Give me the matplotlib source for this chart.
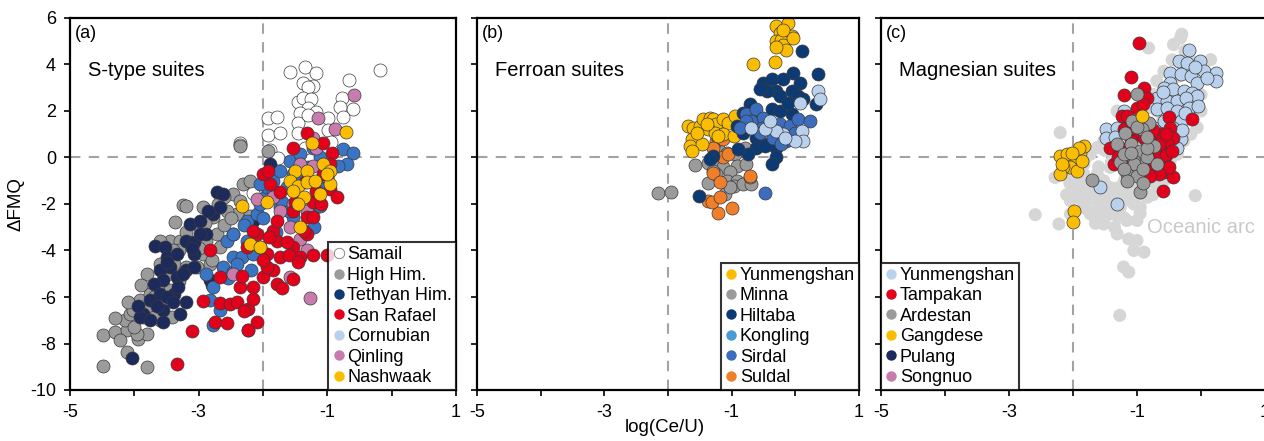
import matplotlib
matplotlib.use("Agg")
import matplotlib.pyplot as plt
from matplotlib.lines import Line2D

plt.rcParams['font.family'] = ['Liberation Sans', 'DejaVu Sans']

# ---------------- Panel (a): S-type suites ----------------
samail_x = [-1.58, -1.35, -1.18, -0.18, -0.66, -1.38, -1.22, -1.30, -0.77, -0.60, -1.45, -1.38, -1.25, -1.30,
            -1.43, -1.17, -0.81, -1.92, -1.79, -1.45, -1.30, -0.99, -0.76, -1.92, -1.74, -1.45, -0.99, -1.22,
            -1.35, -0.94, -2.36, -2.36, -1.89, -1.77, -2.15]
samail_y = [3.69, 3.91, 3.65, 3.76, 3.33, 3.19, 3.08, 3.05, 2.57, 2.07, 2.40, 2.54, 2.50, 2.11,
            1.90, 1.97, 2.19, 1.68, 1.73, 1.47, 1.83, 1.68, 1.76, 0.97, 1.04, 1.04, 1.18, 0.75,
            0.39, 0.68, 0.61, 0.54, 0.32, -0.04, -1.51]

highhim_x = [-4.48, -3.80, -4.12, -4.48, -4.30, -4.12, -4.22, -3.94, -3.81, -4.15, -4.07, -3.86, -3.91, -3.76,
             -3.60, -3.45, -3.50, -3.81, -3.39, -3.45, -3.29, -3.37, -3.24, -3.19, -2.93, -2.77, -2.98, -2.88,
             -2.72, -2.67, -2.46, -2.41, -2.31, -2.46, -2.56, -2.36, -2.93, -2.82, -3.03, -3.19, -3.60, -3.76,
             -4.02, -3.70, -3.42, -3.96, -2.36, -1.92, -3.05, -2.60, -2.20, -3.30,
             -3.60, -3.40, -3.20, -3.00, -2.90, -2.70, -2.60, -2.50, -2.80, -3.30, -3.60, -3.90, -4.10, -4.30,
             -4.00, -3.70, -2.20]
highhim_y = [-8.96, -9.03, -8.36, -7.64, -7.50, -7.43, -7.86, -7.79, -7.57, -7.00, -6.71, -6.86, -6.14, -5.86,
             -5.57, -5.71, -5.00, -5.00, -4.57, -3.57, -3.57, -2.79, -2.03, -2.07, -2.14, -2.57, -3.00, -3.57,
             -3.29, -3.86, -3.29, -2.43, -1.14, -1.57, -2.29, -1.86, -4.14, -4.57, -4.71, -4.71, -7.00, -6.43,
             -6.57, -6.86, -6.86, -7.57, 0.50, 0.30, -3.90, -2.90, -2.50, -4.00,
             -3.60, -4.00, -3.20, -3.90, -2.80, -2.00, -1.70, -2.60, -4.40, -5.30, -4.60, -5.50, -6.20, -6.90,
             -7.30, -6.00, -1.00]

tethyan_x = [-4.04, -3.68, -3.52, -3.50, -3.13, -2.98, -2.77, -2.72, -2.62, -2.67, -2.88, -3.19, -3.08, -3.34,
             -3.45, -3.60, -3.55, -3.34, -3.19, -3.08, -3.70, -3.60, -3.76, -3.39, -3.55, -3.86, -3.91, -3.76,
             -3.55, -3.29, -3.19, -3.50, -3.32, -2.82, -2.80, -3.08, -2.98, -1.89, -2.15,
             -3.50, -3.25, -3.40, -3.65, -3.95, -3.10, -2.85]
tethyan_y = [-8.64, -3.79, -3.86, -4.29, -2.86, -2.71, -2.43, -1.50, -1.57, -2.14, -3.29, -3.57, -4.14, -4.14,
             -4.71, -4.86, -5.29, -5.14, -4.86, -4.71, -5.43, -5.86, -6.14, -5.86, -6.57, -6.71, -6.86, -7.00,
             -7.07, -6.71, -6.21, -6.00, -5.57, -5.29, -5.50, -3.64, -3.29, -0.29, -2.71,
             -4.50, -5.00, -6.20, -6.40, -6.40, -3.90, -2.30]

sanrafael_x = [-3.34, -3.10, -2.75, -2.56, -2.10, -2.23, -2.93, -2.67, -2.51, -2.41, -2.23, -2.15, -2.36, -2.15,
               -2.00, -1.84, -1.79, -1.53, -1.74, -1.53, -1.32, -1.22, -1.42, -1.79, -1.94, -2.05, -1.84, -2.10,
               -2.25, -2.33, -2.67, -2.82, -2.15, -1.79, -1.53, -1.32, -1.37, -1.50, -1.22, -1.17, -0.96, -1.06,
               -1.35, -1.74, -1.89, -2.00, -1.92, -1.53, -1.32, -1.06, -0.93, -0.96, -1.22, -1.63, -1.94, -1.00,
               -1.60, -1.90, -2.00, -1.70, -2.30, -1.45, -1.10, -0.85]
sanrafael_y = [-8.90, -7.46, -7.07, -7.11, -7.07, -7.43, -6.19, -6.26, -6.29, -6.21, -6.50, -6.07, -5.57, -5.57,
               -5.14, -4.86, -5.43, -5.21, -4.29, -3.86, -3.29, -4.21, -4.29, -3.57, -4.14, -3.86, -3.14, -3.29,
               -3.86, -5.11, -5.14, -4.00, -3.14, -2.71, -2.29, -2.57, -3.14, -1.93, -1.93, -1.43, -1.36, -0.71,
               -1.07, -1.50, -1.14, -0.71, -0.57, 0.43, 1.07, 0.64, 0.21, -0.29, -2.57, -3.64, -4.71, -4.20,
               -4.20, -3.40, -4.40, -5.60, -6.60, -4.50, -2.00, -1.70]

cornubian_x = [-2.77, -2.67, -2.82, -2.88, -2.77, -2.56, -2.46, -2.33, -2.18, -2.25, -2.10, -2.05, -1.97, -1.94,
               -1.84, -2.05, -1.74, -1.58, -1.42, -1.22, -0.75, -0.60, -0.70, -0.83, -1.11, -1.53, -1.63, -1.42,
               -1.17, -1.11, -1.53, -1.74, -1.84, -2.15, -2.25, -2.46, -2.62, -1.11, -2.46,
               -2.00, -1.70, -1.60, -1.30, -1.00, -2.30, -2.55, -2.40, -1.20, -1.80]
cornubian_y = [-7.21, -6.57, -6.14, -5.00, -5.57, -3.57, -4.29, -4.29, -4.86, -2.71, -2.43, -2.00, -1.71, -1.29,
               -1.00, -1.14, -0.57, -0.14, 0.14, 0.43, 0.36, 0.21, -0.29, -0.36, 0.00, -0.71, -1.29, -0.71,
               -2.14, -1.29, -2.57, -2.14, -1.43, -4.14, -3.57, -3.29, -4.71, -2.07, -4.93,
               -2.60, -1.90, -2.30, -0.40, -0.90, -2.90, -5.20, -4.60, -3.00, -3.20]

qinling_x = [-0.58, -1.14, -0.88, -1.22, -1.17, -1.22, -1.42, -1.84, -1.74, -1.53, -1.27, -1.32, -1.58, -1.42,
             -1.32, -2.46, -1.58, -1.27, -2.23, -2.10, -1.01]
qinling_y = [2.67, 1.71, 1.21, 0.86, 0.43, -0.36, -0.29, -1.71, -2.29, -2.00, -2.00, -2.29, -3.00, -3.50,
             -4.00, -5.00, -5.14, -6.04, -7.43, -1.79, -0.86]

nashwaak_x = [-0.71, -1.24, -1.50, -1.32, -1.06, -0.96, -1.58, -1.45, -1.32, -1.19, -0.96, -1.11, -1.37, -1.53,
              -1.94, -2.32, -1.45, -1.42, -2.20, -2.05, -1.01]
nashwaak_y = [1.11, 0.64, -0.57, -0.57, -0.29, -0.57, -1.00, -1.21, -1.07, -1.00, -1.14, -1.57, -1.71, -1.43,
              -1.93, -2.07, -2.00, -3.00, -3.71, -3.86, -0.71]

# ---------------- Panel (b): Ferroan suites ----------------
yunb_x = [-0.30, -0.11, -0.24, -0.16, -0.06, -0.30, -0.22, -0.19, -0.14, -0.30, -0.04, -0.19, -0.66, -0.32,
          -1.68, -1.60, -1.50, -1.45, -1.34, -1.29, -1.24, -1.13, -1.05, -0.95, -1.37, -1.26, -1.13, -0.97,
          -1.63, -1.65, -1.47, -1.63, -1.21, -1.55, -1.39]
yunb_y = [5.64, 5.79, 5.36, 5.29, 5.21, 5.00, 5.07, 4.86, 4.64, 4.74, 5.14, 5.50, 4.00, 4.10,
          1.36, 1.29, 1.36, 1.64, 1.71, 1.64, 1.43, 1.64, 1.50, 1.79, 1.21, 1.07, 1.00, 0.93,
          0.79, 0.50, 0.57, 0.29, 0.93, 1.07, 1.43]

minna_x = [-2.15, -1.95, -1.58, -1.37, -1.21, -1.08, -0.95, -0.79, -1.24, -1.13, -0.92, -0.77, -1.37, -1.24,
           -1.03, -1.08, -0.92, -0.97, -0.82, -0.69, -0.71, -1.11, -1.03, -1.29]
minna_y = [-1.53, -1.50, -0.33, -0.24, 0.43, 0.21, 0.14, 0.43, -0.29, -0.43, -0.36, -0.29, -1.11, -0.71,
           -0.64, -1.00, -1.00, -1.21, -1.14, -1.14, -0.86, -1.57, -1.29, -0.57]

hiltaba_x = [0.10, 0.35, 0.33, -0.50, -0.37, -0.19, -0.03, 0.07, -0.06, -0.30, -0.45, -0.56, -0.24, 0.04,
             0.12, -0.82, -0.66, -0.37, -0.24, -0.06, -0.92, -0.82, -0.61, -0.45, -0.30, -0.61, -0.30, -0.37,
             -0.74, -0.90, -1.29, -1.34, -1.51, -0.48, -0.11, -0.71]
hiltaba_y = [4.57, 3.57, 2.29, 3.21, 3.36, 3.36, 3.64, 3.21, 2.86, 2.86, 2.86, 2.93, 2.64, 2.64,
             2.50, 1.93, 2.00, 2.07, 2.00, 1.86, 1.36, 1.07, 0.86, 0.57, 0.43, 0.43, 0.00, -0.29,
             0.14, 0.36, 0.07, -0.07, -1.67, 0.50, 2.36, 2.29]

kongling_x = [0.36, 0.39, 0.07, 0.11, 0.12, -0.01, -0.19, -0.30, -0.48, -0.69, -0.40, -0.16]
kongling_y = [2.86, 2.50, 2.36, 1.14, 0.71, 0.71, 1.00, 1.14, 1.21, 1.26, 1.57, 0.86]

sirdal_x = [-0.48, -0.77, -0.61, -0.50, -0.69, -0.53, -0.40, -0.24, -0.09, 0.04, 0.23, -0.01, -0.27, -0.35,
            -0.14, -0.22, -0.77, -0.87, -0.56]
sirdal_y = [-1.53, 1.86, 2.07, 1.71, 1.57, 1.29, 1.43, 1.43, 1.36, 1.64, 1.57, 1.07, 1.07, 0.86,
            0.71, 0.57, 1.57, 1.29, 1.07]

suldal_x = [-1.21, -1.00, -1.37, -1.31, -1.18, -1.29, -1.18, -1.13, -1.05, -1.24, -1.21, -1.13, -0.71, -1.29]
suldal_y = [-2.39, -2.17, -1.86, -1.93, -1.71, -0.67, -1.07, 0.00, 0.14, 0.71, 0.86, 0.79, -0.79, 0.43]

# ---------------- Panel (c): Magnesian suites ----------------
oceanic_x = [-0.32, -0.82, -0.43, 0.15, -0.58, -0.69, -0.74, -0.79, -1.31, -1.21, -1.10, -1.52, -1.62, -1.73,
             -1.83, -1.94, -2.04, -2.20, -2.28, -1.94, -1.78, -1.62, -1.52, -1.83, -1.94, -1.73, -1.52, -1.42,
             -1.26, -1.10, -0.95, -0.84, -0.69, -0.58, -0.27, -0.16, -0.06, -0.09, -2.59, -2.22, -2.04, -1.65,
             -1.52, -1.29, -1.16, -1.00, -1.31, -1.13, -1.00, -1.05, -0.89, -1.21, -1.13, -1.27, -1.42, -1.21,
             -1.00, -1.52, -1.62, -1.42, -1.21, -0.48, -0.37, -0.27, -0.58, -0.69, -0.48, -0.27, -0.16, 0.00,
             0.00, -1.52, -1.31, -2.04, -1.83, -1.70, -1.20, -0.90, -1.80, -1.40, -1.60, -1.10,
             -1.90, -1.80, -1.70, -1.60, -1.50, -1.40, -1.30, -1.20, -1.10, -1.00, -0.90, -0.80, -1.85, -1.65,
             -1.45, -1.25, -1.05, -0.95, -1.35, -1.55, -1.75, -1.60, -1.40, -1.30, -1.10, -0.90, -0.70, -0.60,
             -0.50, -0.40, -0.35, -0.45, -0.25, -0.30, -0.55, -0.80, -1.00, -1.50, -1.80, -2.05, -2.10, -1.20,
             -1.35, -0.75]
oceanic_y = [5.14, 4.71, 4.86, 4.21, 3.71, 3.29, 2.71, 2.14, 2.00, 1.71, 1.00, 0.71, 0.43, 0.14,
             -0.29, -0.57, -0.71, 1.07, -0.86, -1.29, -1.57, -1.86, -2.14, -2.00, -1.71, -2.43, -2.71, -2.43,
             -2.14, -1.86, -2.14, -1.71, -1.29, -1.00, 0.71, 1.00, 1.29, -1.64, -2.46, -2.86, -2.43, -2.83,
             -2.86, -2.57, -2.71, -2.71, -3.29, -3.50, -3.57, -4.00, -4.07, -4.71, -4.93, -6.79, -1.29, -1.29,
             -1.29, -1.00, -0.71, -0.43, -0.14, -0.14, 0.14, 1.57, 1.29, 2.00, 3.14, 3.86, 4.14, 2.71,
             2.00, -1.71, -1.71, -1.86, -0.71, -1.00, -0.60, -0.30, -2.20, -2.00, -1.30, -1.00,
             -0.90, -1.20, -1.40, -1.10, -1.40, -1.60, -1.30, -1.00, -1.50, -1.60, -1.30, -1.00, -1.50, -2.30,
             -1.90, -1.80, -2.00, -2.40, -2.30, -2.50, -1.80, -0.40, -0.20, 0.20, 0.50, 0.80, 1.10, 1.60,
             2.30, 2.80, 3.50, 4.20, 4.60, 5.30, 0.30, -0.60, -0.30, 0.30, 0.00, -1.10, -1.60, -2.60,
             -3.00, -1.60]

yunc_x = [-0.19, -0.35, -0.22, -0.01, 0.04, 0.23, 0.23, -0.48, -0.32, -0.16, -0.06, -0.48, -0.58, -0.43,
          -0.27, -0.14, -0.06, -0.69, -0.53, -0.37, -0.24, -0.19, -0.69, -0.53, -0.37, -0.32, -0.43, -0.32,
          -0.37, -0.74, -1.49, -1.49, -1.31, -1.58, -1.31, -0.58, -1.21,
          -0.10, 0.10, -0.05, -0.25, -0.60, -1.35, -0.30]
yunc_y = [4.64, 4.14, 4.07, 4.14, 3.71, 3.64, 3.29, 3.64, 3.57, 3.50, 3.21, 3.21, 3.00, 2.93,
          2.86, 2.79, 2.64, 2.57, 2.43, 2.43, 2.57, 2.14, 2.07, 2.14, 2.00, 1.57, 1.29, 0.79,
          0.43, 1.29, 1.21, 0.86, 1.29, -1.26, -2.00, 1.57, 2.00,
          3.90, 3.40, 2.20, 1.90, 2.80, 0.90, 1.20]

tampakan_x = [-0.97, -1.09, -1.20, -0.89, -1.00, -0.84, -0.14, -0.50, -1.23, -1.08, -0.95, -1.21, -1.00, -1.10,
              -0.89, -0.74, -1.42, -1.26, -0.63, -0.48, -0.43, -0.53, -0.63, -0.58, -0.69, -0.84, -0.58, -1.36,
              -1.21, -0.69, -0.44, -0.59, -0.79, -1.05,
              -0.55, -0.65, -0.75, -0.45, -0.50, -0.65, -0.80, -1.30, -1.15, -0.90, -0.55]
tampakan_y = [4.93, 3.46, 2.69, 2.97, 2.14, 2.57, 1.64, 1.74, 1.79, 1.57, 1.43, 1.21, 1.00, 0.71,
              0.86, 0.86, 0.43, 0.43, 1.00, 1.29, 0.86, 0.57, 0.29, -0.14, -0.43, -0.50, -0.64, -0.29,
              -0.36, 0.00, -0.83, -1.43, 0.43, 1.29,
              0.10, 0.60, 1.20, 0.30, -0.40, -0.70, -0.80, 0.00, 1.80, 2.30, 1.00]

ardestan_x = [-1.00, -1.08, -0.82, -1.18, -0.92, -1.31, -1.10, -0.95, -0.74, -1.26, -1.05, -1.05, -0.84, -0.69,
              -1.16, -1.00, -0.95, -1.70, -0.84, -1.21,
              -1.10, -0.90, -1.20, -0.85, -1.00, -1.15, -0.90]
ardestan_y = [2.74, 1.57, 1.50, 1.07, 1.21, 0.57, 0.57, 0.29, 0.50, -0.21, -0.14, -0.29, 0.00, -0.29,
              -0.71, -0.79, -1.50, -0.96, 0.43, 0.14,
              0.20, -0.50, -0.50, 0.90, 1.30, -1.00, -1.10]

gangdese_x = [-0.92, -1.99, -2.00, -2.20, -2.09, -1.99, -1.89, -1.83, -1.91, -2.04, -2.15, -2.20, -1.94, -2.09,
              -1.86, -2.02, -2.17]
gangdese_y = [1.79, -2.31, -2.79, 0.07, -0.21, 0.00, 0.21, 0.50, 0.43, -0.43, -0.43, -0.71, -0.57, 0.14,
              -0.14, 0.21, -0.29]

pulang_x, pulang_y = [], []
songnuo_x, songnuo_y = [], []

# ---------------- colours ----------------
C_WHITE = '#ffffff'
C_GRAY = '#9b9b9b'
C_NAVY = '#1c2a5c'
C_DKBLUE = '#0c3a74'
C_RED = '#e3001b'
C_MIDBLUE = '#3a74c4'
C_LTBLUE = '#b9d1ec'
C_PINK = '#c87bad'
C_GOLD = '#fbbd00'
C_KONG = '#4b9bd8'
C_SIRDAL = '#3b6cbd'
C_ORANGE = '#f07f29'
C_OCEAN = '#d6d6d6'

xticks = [-5, -4, -3, -2, -1, 0, 1]
xticklabels = ['-5', '', '-3', '', '-1', '', '1']
yticks = [-10, -8, -6, -4, -2, 0, 2, 4, 6]

fig = plt.figure(figsize=(12.64, 4.41), dpi=100)
W, H = 1264, 441
bottom = 1 - 390 / H
height = 372 / H
axA = fig.add_axes([70 / W, bottom, 386 / W, height])
axB = fig.add_axes([477 / W, bottom, 382 / W, height])
axC = fig.add_axes([881 / W, bottom, 384 / W, height])

S = 88
EC = '#3a3a3a'
LW = 0.5


def style(ax, show_ylabels):
    ax.set_xlim(-5, 1)
    ax.set_ylim(-10, 6)
    ax.set_xticks(xticks)
    ax.set_xticklabels(xticklabels)
    ax.set_yticks(yticks)
    if show_ylabels:
        ax.set_yticklabels([str(v) for v in yticks])
    else:
        ax.set_yticklabels([])
    ax.tick_params(direction='out', length=4, width=1.2, labelsize=13, pad=6)
    for sp in ax.spines.values():
        sp.set_linewidth(1.6)
        sp.set_color('black')
    ax.axvline(-2, color='#a3a3a3', lw=1.5, ls=(0, (5, 4)), zorder=0.5)
    ax.axhline(0, color='#a3a3a3', lw=1.5, ls=(0, (5, 4)), zorder=0.5)


def sc(ax, x, y, c, ec=EC, lw=LW, z=2):
    ax.scatter(x, y, s=S, c=c, edgecolors=ec, linewidths=lw, zorder=z)


def handle(color, label, ec='none'):
    return Line2D([], [], ls='none', marker='o', markersize=7.5, markerfacecolor=color,
                  markeredgecolor=ec, markeredgewidth=0.6, label=label)


def legend(ax, handles, loc):
    lg = ax.legend(handles=handles, loc=loc, borderaxespad=0, frameon=True, fancybox=False,
                   fontsize=13, handlelength=0.7, handletextpad=0.12, labelspacing=0.19,
                   borderpad=0.22, edgecolor='black')
    lg.get_frame().set_linewidth(1.5)
    lg.set_zorder(10)


# Panel a
style(axA, True)
sc(axA, samail_x, samail_y, C_WHITE)
sc(axA, highhim_x, highhim_y, C_GRAY)
sc(axA, tethyan_x, tethyan_y, C_NAVY)
sc(axA, cornubian_x, cornubian_y, C_MIDBLUE)
sc(axA, qinling_x, qinling_y, C_PINK)
sc(axA, sanrafael_x, sanrafael_y, C_RED)
sc(axA, nashwaak_x, nashwaak_y, C_GOLD)
axA.text(-4.72, 3.75, 'S-type suites', fontsize=14.5, va='center', ha='left')
axA.text(-4.93, 5.35, '(a)', fontsize=13, va='center', ha='left')
legend(axA, [handle(C_WHITE, 'Samail', '#777777'), handle(C_GRAY, 'High Him.'),
             handle(C_DKBLUE, 'Tethyan Him.'), handle(C_RED, 'San Rafael'),
             handle(C_LTBLUE, 'Cornubian'), handle(C_PINK, 'Qinling'), handle(C_GOLD, 'Nashwaak')],
       'lower right')
axA.set_ylabel('ΔFMQ', fontsize=13.5, labelpad=4)

# Panel b
style(axB, False)
sc(axB, minna_x, minna_y, C_GRAY)
sc(axB, suldal_x, suldal_y, C_ORANGE)
sc(axB, yunb_x, yunb_y, C_GOLD)
sc(axB, hiltaba_x, hiltaba_y, C_DKBLUE)
sc(axB, sirdal_x, sirdal_y, C_SIRDAL)
sc(axB, kongling_x, kongling_y, C_LTBLUE)
axB.text(-4.72, 3.75, 'Ferroan suites', fontsize=14.5, va='center', ha='left')
axB.text(-4.93, 5.35, '(b)', fontsize=13, va='center', ha='left')
legend(axB, [handle(C_GOLD, 'Yunmengshan'), handle(C_GRAY, 'Minna'), handle(C_DKBLUE, 'Hiltaba'),
             handle(C_KONG, 'Kongling'), handle(C_SIRDAL, 'Sirdal'), handle(C_ORANGE, 'Suldal')],
       'lower right')

# Panel c
style(axC, False)
axC.scatter(oceanic_x, oceanic_y, s=S, c=C_OCEAN, edgecolors='none', zorder=1)
sc(axC, yunc_x, yunc_y, C_LTBLUE)
sc(axC, tampakan_x, tampakan_y, C_RED)
sc(axC, ardestan_x, ardestan_y, C_GRAY)
sc(axC, gangdese_x, gangdese_y, C_GOLD)
sc(axC, pulang_x, pulang_y, C_NAVY)
sc(axC, songnuo_x, songnuo_y, C_PINK)
axC.text(-0.85, -3.0, 'Oceanic arc', fontsize=14.5, color='#c9c9c9', va='center', ha='left')
axC.text(-4.72, 3.75, 'Magnesian suites', fontsize=14.5, va='center', ha='left')
axC.text(-4.93, 5.35, '(c)', fontsize=13, va='center', ha='left')
legend(axC, [handle(C_LTBLUE, 'Yunmengshan'), handle(C_RED, 'Tampakan'), handle(C_GRAY, 'Ardestan'),
             handle(C_GOLD, 'Gangdese'), handle(C_NAVY, 'Pulang'), handle(C_PINK, 'Songnuo')],
       'lower left')

fig.text(665 / W, 1 - 428 / H, 'log(Ce/U)', fontsize=13.5, ha='center', va='center')

fig.savefig('out.png', dpi=100)
